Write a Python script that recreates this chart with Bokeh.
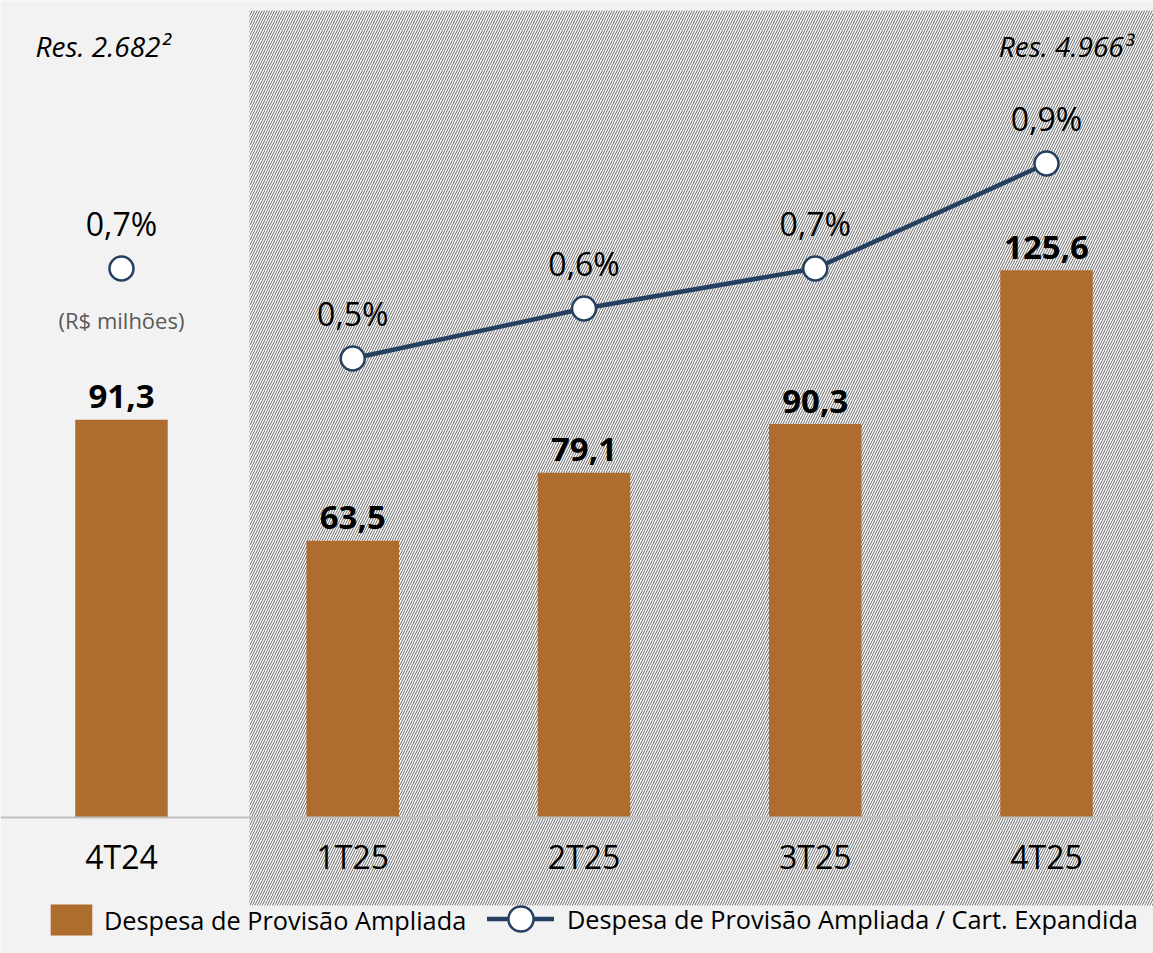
from bokeh.plotting import figure
from bokeh.models import Range1d, ColumnDataSource, Label, Legend, LegendItem, Span
from bokeh.core.properties import value
from bokeh.embed import file_html
from bokeh.resources import INLINE

# ---------------- data ----------------
categories = ["4T24", "1T25", "2T25", "3T25", "4T25"]
provisao = [91.3, 63.5, 79.1, 90.3, 125.6]          # R$ milhões
pct_cart = [0.69, 0.51, 0.61, 0.69, 0.90]            # % da carteira expandida
pct_labels = ["0,7%", "0,5%", "0,6%", "0,7%", "0,9%"]
bar_labels = [f"{v:.1f}".replace(".", ",") for v in provisao]
res_left = "Res. 2.682\u00b2"
res_right = "Res. 4.966\u00b3"
unit_label = "(R$ milhões)"
legend_bar = "Despesa de Provisão Ampliada"
legend_line = "Despesa de Provisão Ampliada / Cart. Expandida"

# ---------------- styling ----------------
BG = "#f2f2f2"
BROWN = "#ae6c2f"
NAVY = "#254061"
FONT = "Open Sans"

W, H = 1153, 953
xs = list(range(len(categories)))
X0, X1 = -0.5232, 4.4627

p = figure(width=W, height=H, output_backend="svg", toolbar_location=None,
           x_range=Range1d(X0, X1), y_range=Range1d(-31.21, 187.51),
           min_border=0, min_border_left=0, min_border_right=0,
           min_border_top=0, min_border_bottom=0,
           background_fill_color=BG, border_fill_color=BG, outline_line_color=None)
p.xaxis.visible = False
p.yaxis.visible = False
p.xgrid.visible = False
p.ygrid.visible = False
p.extra_y_ranges = {"pct": Range1d(-0.68, 1.226)}

# hatched region (Res. 4.966 period)
p.quad(left=0.5535, right=X1 + 0.1, top=185.2, bottom=-20.2,
       fill_color="white", line_color=None,
       hatch_pattern="/", hatch_color="#666666", hatch_scale=5, hatch_weight=1.0)

# baseline
p.add_layout(Span(location=0, dimension="width", line_color="#bfbfbf", line_width=2))

src = ColumnDataSource(dict(x=xs, cat=categories, val=provisao, blab=bar_labels,
                            pct=pct_cart, plab=pct_labels))
src_line = ColumnDataSource(dict(x=xs[1:], pct=pct_cart[1:]))

bars = p.vbar(x="x", top="val", width=0.4, source=src, fill_color=BROWN, line_color=None)

line_r = p.line(x="x", y="pct", source=src_line, y_range_name="pct",
                line_color=NAVY, line_width=4.5, line_cap="round")
dots = p.scatter(x="x", y="pct", source=src, y_range_name="pct", size=24,
                 marker="circle", fill_color="white", line_color=NAVY, line_width=2.5)

# value labels
p.text(x="x", y="val", text="blab", source=src, text_font=value(FONT),
       text_font_size="33px", text_font_style="bold", text_color="black",
       text_align="center", text_baseline="middle", y_offset=-23)
p.text(x="x", y="pct", text="plab", source=src, y_range_name="pct",
       text_font=value(FONT), text_font_size="32px", text_color="black",
       text_align="center", text_baseline="middle", y_offset=-45)
# category labels
p.text(x="x", y=0, text="cat", source=src, text_font=value(FONT),
       text_font_size="32px", text_color="black",
       text_align="center", text_baseline="middle", y_offset=39)
# unit label under first marker
p.text(x=[xs[0]], y=[pct_cart[0]], text=[unit_label], y_range_name="pct",
       text_font=value(FONT), text_font_size="22px", text_color="#595959",
       text_align="center", text_baseline="middle", y_offset=51)

p.add_layout(Label(x=35, y=H - 45, x_units="screen", y_units="screen", text=res_left,
                   text_font=FONT, text_font_size="28px", text_font_style="italic",
                   text_baseline="middle", text_align="left", text_color="black"))
p.add_layout(Label(x=1133, y=H - 45, x_units="screen", y_units="screen", text=res_right,
                   text_font=FONT, text_font_size="28px", text_font_style="italic",
                   text_baseline="middle", text_align="right", text_color="black"))

# legends
leg1 = Legend(items=[LegendItem(label=legend_bar, renderers=[bars])],
              location=(45, 14), orientation="horizontal", glyph_width=52, glyph_height=39,
              label_standoff=7, padding=0, margin=0, spacing=0,
              border_line_alpha=0, background_fill_alpha=0,
              label_text_font=FONT, label_text_font_size="25.3px", label_text_color="black")
leg2 = Legend(items=[LegendItem(label=legend_line, renderers=[line_r, dots])],
              location=(487, 3), orientation="horizontal", glyph_width=67, glyph_height=63,
              label_standoff=13, padding=0, margin=0, spacing=0,
              border_line_alpha=0, background_fill_alpha=0,
              label_text_font=FONT, label_text_font_size="25.3px", label_text_color="black")
p.add_layout(leg1)
p.add_layout(leg2)

open("out.html", "w").write(file_html(p, INLINE))
